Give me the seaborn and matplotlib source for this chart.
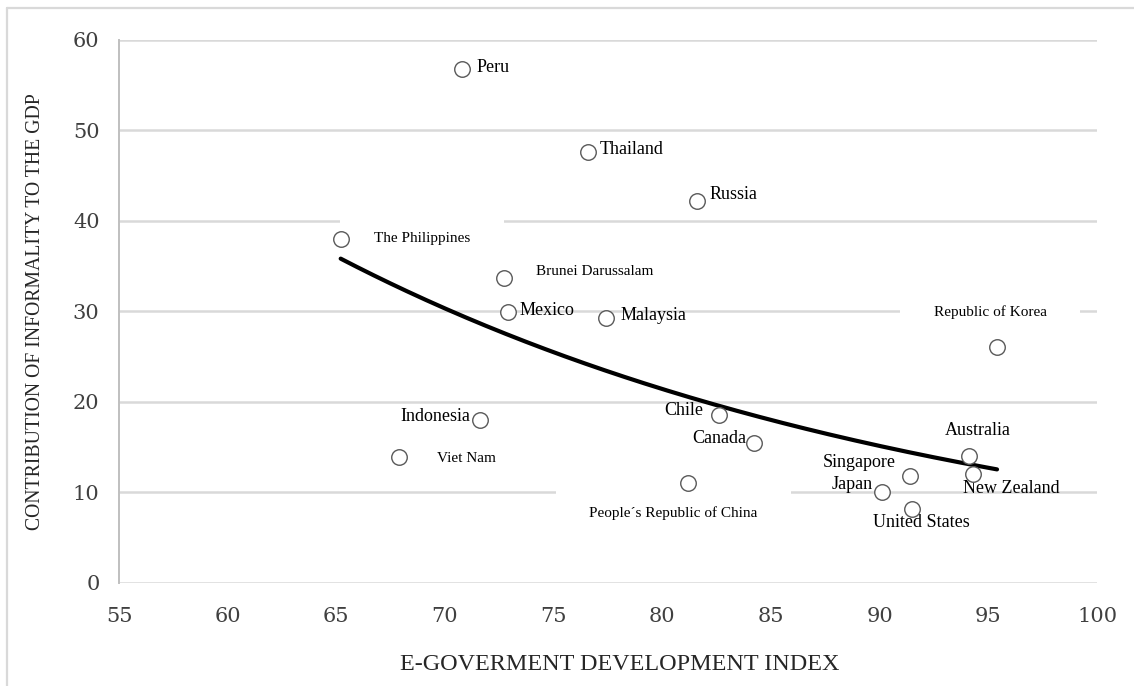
import numpy as np
import pandas as pd
import matplotlib
matplotlib.use("Agg")
import matplotlib.pyplot as plt
from matplotlib.lines import Line2D
import seaborn as sns

countries = ["Peru", "Thailand", "Russia", "The Philippines", "Brunei Darussalam",
             "Mexico", "Malaysia", "Republic of Korea", "Indonesia", "Viet Nam",
             "Chile", "Canada", "People\u00b4s Republic of China", "Australia",
             "New Zealand", "Singapore", "Japan", "United States"]
egov = [70.8, 76.6, 81.6, 65.2, 72.7, 72.9, 77.4, 95.4, 71.6, 67.9,
        82.6, 84.2, 81.2, 94.1, 94.3, 91.4, 90.1, 91.5]
informality = [56.7, 47.6, 42.2, 38.0, 33.7, 29.9, 29.25, 26.05, 18.0, 13.9,
               18.5, 15.45, 11.0, 14.0, 12.0, 11.8, 10.0, 8.2]
xticks = [55, 60, 65, 70, 75, 80, 85, 90, 95, 100]
yticks = [0, 10, 20, 30, 40, 50, 60]

df = pd.DataFrame({"country": countries, "x": egov, "y": informality})

# exponential trendline fitted to the data
b, ln_a = np.polyfit(df["x"], np.log(df["y"]), 1)
xs = np.linspace(df["x"].min(), df["x"].max(), 200)
trend = pd.DataFrame({"x": xs, "y": np.exp(ln_a + b * xs)})

sns.set_theme(style="white")
plt.rcParams["font.family"] = ["Liberation Serif", "DejaVu Serif"]

fig = plt.figure(figsize=(11.34, 6.86), dpi=100)
ax = fig.add_axes([119 / 1134, 1 - 583 / 686, (1097 - 119) / 1134, (583 - 39.5) / 686])

ax.set_xlim(55, 100)
ax.set_ylim(0, 60)
ax.set_xticks(xticks)
ax.set_yticks(yticks)
ax.yaxis.grid(True, color="#d9d9d9", linewidth=1.8, zorder=0)
ax.xaxis.grid(False)
ax.set_axisbelow(True)
for s in ["top", "right", "bottom"]:
    ax.spines[s].set_visible(False)
ax.spines["left"].set_color("#bfbfbf")
ax.spines["left"].set_linewidth(1.4)
ax.tick_params(axis="both", length=0, colors="#404040", labelsize=15)
ax.tick_params(axis="y", pad=14)
ax.tick_params(axis="x", pad=17)
for lab in ax.get_xticklabels() + ax.get_yticklabels():
    lab.set_family("DejaVu Serif")

sns.lineplot(data=trend, x="x", y="y", ax=ax, color="black", linewidth=3.0, zorder=4)
sns.scatterplot(data=df, x="x", y="y", ax=ax, s=125, facecolor="white",
                edgecolor="#595959", linewidth=1.0, zorder=5)

big, small = 13, 11
# (dx, dy in pixels, ha, size, boxed)
placements = {
    "Peru": (14, 2, "left", big, False),
    "Thailand": (11, 2, "left", big, False),
    "Russia": (12, 6, "left", big, False),
    "The Philippines": (33, 0, "left", small, True),
    "Brunei Darussalam": (32, 6, "left", small, False),
    "Mexico": (11, 2, "left", big, False),
    "Malaysia": (15, 3, "left", big, False),
    "Republic of Korea": (-7, 35, "center", small, True),
    "Indonesia": (-10, 3, "right", big, False),
    "Viet Nam": (38, -1, "left", small, False),
    "Chile": (-16, 5, "right", big, False),
    "Canada": (-7, 5, "right", big, False),
    "People\u00b4s Republic of China": (-15, -30, "center", small, True),
    "Australia": (9, 26, "center", big, False),
    "New Zealand": (-10, -14, "left", big, False),
    "Singapore": (-14, 14, "right", big, False),
    "Japan": (-9, 8, "right", big, False),
    "United States": (9, -14, "center", big, False),
}
for c, x, y in zip(df["country"], df["x"], df["y"]):
    dx, dy, ha, size, boxed = placements[c]
    kw = {}
    if boxed:
        kw["bbox"] = dict(boxstyle="square,pad=2.2", facecolor="white", edgecolor="none")
    ax.annotate(c, (x, y), xytext=(dx * 0.72, dy * 0.72), textcoords="offset points",
                ha=ha, va="center", fontsize=size, color="black",
                zorder=3, annotation_clip=False, **kw)

ax.set_xlabel("E-GOVERMENT DEVELOPMENT INDEX", fontsize=17.4, color="#262626")
ax.xaxis.set_label_coords(0.512, -0.131)
ax.set_ylabel("CONTRIBUTION OF INFORMALITY TO THE GDP", fontsize=14.2, color="#262626", labelpad=20)

# outer frame lines (top and left)
fig.add_artist(Line2D([7 / 1134, 1], [1 - 8 / 686, 1 - 8 / 686], color="#d9d9d9", linewidth=1.6,
                      transform=fig.transFigure))
fig.add_artist(Line2D([7 / 1134, 7 / 1134], [0, 1 - 8 / 686], color="#d9d9d9", linewidth=1.6,
                      transform=fig.transFigure))

fig.savefig("out.png", dpi=100)
